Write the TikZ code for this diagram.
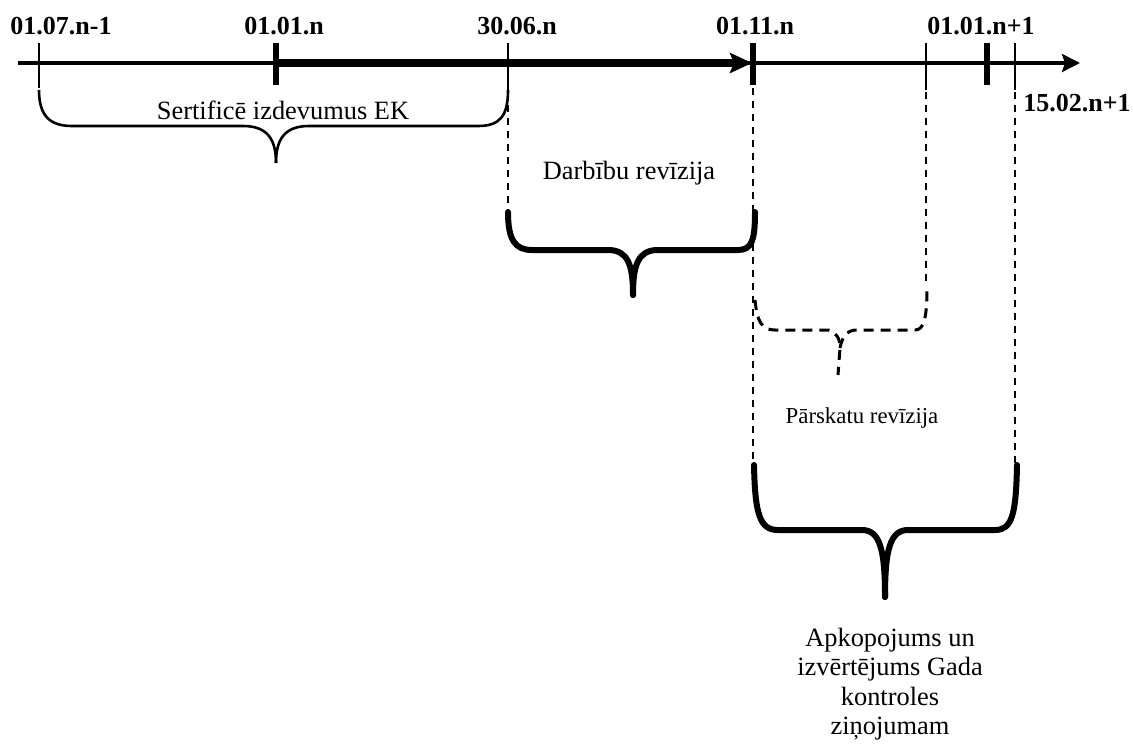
\documentclass[tikz,border=0pt]{standalone}
\usepackage{fontspec}
\setmainfont{Liberation Serif}
\usetikzlibrary{arrows.meta}
\begin{document}
\begin{tikzpicture}[x=0.5pt,y=-0.5pt,
  date/.style={font=\fontsize{13}{15}\selectfont\bfseries, anchor=base, inner sep=0pt},
  lbl/.style={font=\fontsize{13.2}{15}\selectfont, anchor=base, inner sep=0pt},
  small/.style={font=\fontsize{11.4}{13}\selectfont, anchor=base, inner sep=0pt},
  thinax/.style={line width=1.7pt},
  thickax/.style={line width=4pt},
  thintick/.style={line width=0.7pt},
  thicktick/.style={line width=2.6pt},
  guide/.style={line width=0.7pt, dash pattern=on 3.5pt off 3pt},
  bracethin/.style={line width=1.3pt},
  bracethick/.style={line width=3pt, line cap=round},
  bracedash/.style={line width=1.5pt, dash pattern=on 5pt off 3.5pt}]
\useasboundingbox (0,0) rectangle (1133,743);

% axis coordinates
\coordinate (ax0) at (18,63);
\coordinate (axE) at (1080,63);
\coordinate (jan) at (276,63);
\coordinate (nov) at (752,63);

% main time axis
\draw[thinax, -{Stealth[length=9pt,width=9pt,inset=1.5pt]}] (ax0) -- (axE);
\draw[thickax, -{Stealth[length=11pt,width=10pt,inset=2pt]}] (jan) -- (nov);

% ticks
\draw[thintick] (39,43) -- (39,88);
\draw[thicktick] (276,43) -- (276,85);
\draw[thintick] (508,43) -- (508,90);
\draw[thicktick] (753,43) -- (753,85);
\draw[thintick] (926,43) -- (926,90);
\draw[thicktick] (987,43) -- (987,85);
\draw[thintick] (1015,43) -- (1015,90);

% date labels
\node[date] (d1) at (61,35) {01.07.n-1};
\node[date] (d2) at (284,35) {01.01.n};
\node[date] (d3) at (517,35) {30.06.n};
\node[date] (d4) at (755,35) {01.11.n};
\node[date] (d5) at (981,35) {01.01.n+1};
\node[date] (d6) at (1077,112) {15.02.n+1};

% dashed guide lines
\draw[guide] (508,92) -- (508,210);
\draw[guide] (753,88) -- (753,465);
\draw[guide] (926,92) -- (926,285);
\draw[guide] (1015,92) -- (1015,465);

% Sertifice brace
\draw[bracethin] (39,90) .. controls (39,116) and (50,126) .. (72,126) -- (243,126)
   .. controls (268,126) and (276,140) .. (276,163);
\draw[bracethin] (276,163) .. controls (276,140) and (284,126) .. (309,126) -- (478,126)
   .. controls (500,126) and (508,116) .. (508,90);
\node[lbl] (t1) at (283,120) {Sertificē izdevumus EK};

% Darbibu brace
\draw[bracethick] (508,212) .. controls (508,240) and (515,250) .. (532,250) -- (608,250)
   .. controls (628,250) and (633,265) .. (633,295);
\draw[bracethick] (633,295) .. controls (633,265) and (638,250) .. (658,250) -- (738,250)
   .. controls (752,250) and (755,240) .. (755,212);
\node[lbl] (t2) at (629,180) {Darbību revīzija};

% Parskatu brace (dashed)
\draw[bracedash] (755,300) .. controls (757,322) and (762,330) .. (775,330) -- (828,330)
   .. controls (836,332) and (840,338) .. (840,348) -- (838,375);
\draw[bracedash] (840,348) .. controls (842,338) and (846,331) .. (855,330) -- (915,330)
   .. controls (924,330) and (927,318) .. (927,287);
\node[small] (t3) at (862,423) {Pārskatu revīzija};

% Apkopojums brace
\draw[bracethick] (754,465) .. controls (755,515) and (760,530) .. (778,530) -- (862,530)
   .. controls (880,530) and (885,550) .. (885,597);
\draw[bracethick] (885,597) .. controls (885,550) and (890,530) .. (908,530) -- (995,530)
   .. controls (1012,530) and (1016,515) .. (1017,465);
\node[font=\fontsize{13.2}{14.6}\selectfont, align=center, anchor=north, inner sep=0pt] (t4) at (890,628)
  {Apkopojums un\\izvērtējums Gada\\kontroles\\ziņojumam};
\end{tikzpicture}
\end{document}
